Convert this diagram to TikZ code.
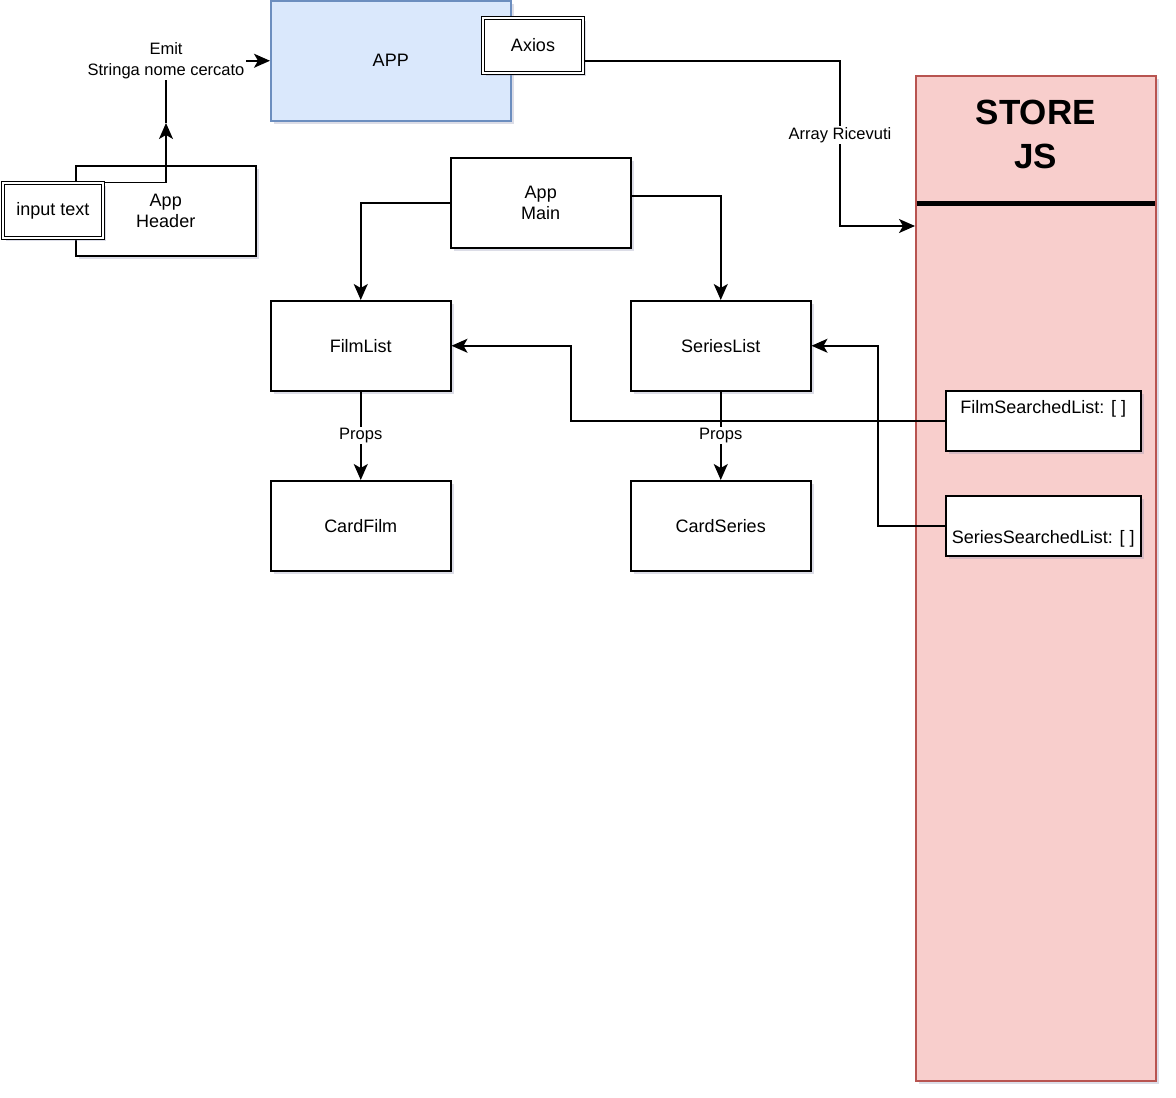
\documentclass[tikz,border=0pt]{standalone}
\usepackage{fontspec}
\setmainfont{Liberation Sans}
\usetikzlibrary{positioning,arrows.meta,shadows}
\definecolor{appfill}{HTML}{DAE8FC}
\definecolor{appline}{HTML}{6C8EBF}
\definecolor{storefill}{HTML}{F8CECC}
\definecolor{storeline}{HTML}{B85450}
\definecolor{shadowcol}{HTML}{8A8FB0}

\begin{document}
\begin{tikzpicture}[x=1pt,y=-1pt,line width=1.5pt,
		font=\fontsize{18}{21.6}\selectfont]
		\tikzstyle{arr}=[-{Stealth[length=16pt,width=14pt,inset=4pt]}]
		\tikzstyle{shade}=[drop shadow={opacity=0.3,fill=shadowcol,shadow xshift=3pt,shadow yshift=-3pt}]
		\tikzstyle{comp}=[draw,fill=white,shade,minimum width=180pt,minimum height=90pt,align=center,inner sep=0pt]
		\tikzstyle{dbox}=[draw,fill=white,shade,double,double distance=2.5pt,line width=1pt,minimum width=100pt,minimum height=55pt,inner sep=0pt]
		\tikzstyle{lbl}=[fill=white,inner sep=1pt,align=center,font=\fontsize{16.5}{20.5}\selectfont]
		\useasboundingbox (0,0) rectangle (1176,1098);
		% top
		\node[draw=appline,fill=appfill,shade,minimum width=240pt,minimum height=120pt] (app) at (390.75,60.75) {APP};
		\node[dbox] (axios) at (533,45.5) {Axios};
		\node[comp] (header) at (165.75,210.75) {App\\Header};
		\node[dbox] (input) at (53,210.5) {input text};
		\node[lbl] (emit) at (166,60.75) {Emit\\Stringa nome cercato};
		\coordinate (tip) at (166,123);
		\draw[arr] (input.north east) -| (tip);
		\draw (tip) -- (emit.south);
		\draw[arr] (emit.east) -- (app.west);
		% store
		\node[draw=storeline,fill=storefill,shade,minimum width=240pt,minimum height=1005pt,
			label={[anchor=center,yshift=-59pt,align=center,font=\bfseries\fontsize{35}{44}\selectfont]north:STORE\\JS}] (store) at (1035.75,578.25) {};
		\draw[line width=5pt] (916.5,203) -- (1155,203);
		\node[comp,minimum width=195pt,minimum height=60pt,
			label={[anchor=center,yshift=-19pt]north:FilmSearchedList: [ ]}] (filmsl) at (1043.25,420.75) {};
		\node[comp,minimum width=195pt,minimum height=60pt,
			label={[anchor=center,yshift=18pt]south:SeriesSearchedList: [ ]}] (seriessl) at (1043.25,525.75) {};
		% main
		\node[comp] (appmain) at (540.75,202.75) {App\\Main};
		\node[comp] (filmlist) at (360.75,345.75) {FilmList};
		\node[comp] (serieslist) at (720.75,345.75) {SeriesList};
		\node[comp] (cardfilm) at (360.75,525.75) {CardFilm};
		\node[comp] (cardseries) at (720.75,525.75) {CardSeries};
		\draw[arr] (appmain.west) -| (filmlist.north);
		\draw[arr] ([yshift=7pt]appmain.east) -| (serieslist.north);
		\draw[arr] (filmlist) -- node[lbl]{Props} (cardfilm);
		\draw[arr] (serieslist) -- node[lbl]{Props} (cardseries);
		\draw[arr] ([yshift=-15.5pt]axios.east) -| (840,135) node[lbl]{Array Ricevuti} |- (store.west |- 0,226);
		\draw[arr] (filmsl.west) -- (571,420.75) |- (filmlist.east);
		\draw[arr] (seriessl.west) -- (878,525.75) |- (serieslist.east);
\end{tikzpicture}
\end{document}
